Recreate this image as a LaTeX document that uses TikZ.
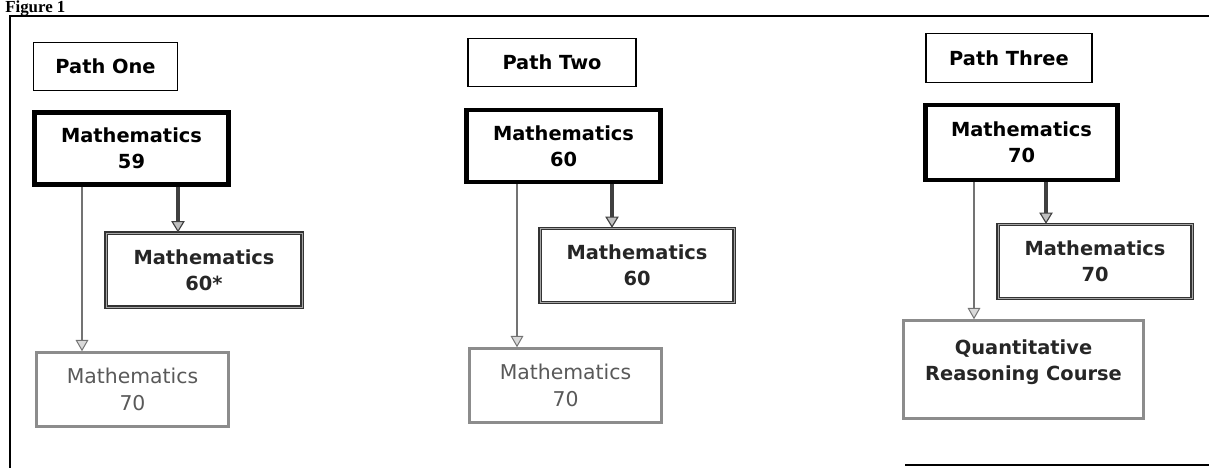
\documentclass[tikz,border=0pt]{standalone}
\usepackage{fontspec}
\newfontfamily\boxfont{DejaVu Sans}
\newfontfamily\titlefont{Liberation Serif}
\usetikzlibrary{arrows.meta}
\tikzset{
  pathbox/.style = {
    rectangle, draw=black, line width=1.2pt,
    align=center, font=\boxfont\bfseries\fontsize{13.8}{18.5}\selectfont
  },
  mainbox/.style = {
    rectangle, draw=black, line width=3pt,
    align=center, font=\boxfont\bfseries\fontsize{13.8}{18.5}\selectfont
  },
  nextbox/.style = {
    rectangle, draw=black!80, line width=0.9pt, double=black!35,
    double distance=0.6pt, text=black!85,
    align=center, font=\boxfont\bfseries\fontsize{13.8}{18.5}\selectfont
  },
  altbox/.style = {
    rectangle, draw=black!45, line width=1.8pt, text=black!65,
    align=center, font=\boxfont\fontsize{14.5}{19}\selectfont
  },
  mainarrow/.style = {
    draw=black!75, line width=2.4pt,
    -{Triangle[width=9.5pt, length=8pt, fill=black!25, line width=0.8pt]}
  },
  altarrow/.style = {
    draw=black!55, line width=1.4pt,
    -{Triangle[width=9pt, length=8pt, fill=black!15, line width=0.7pt]}
  },
  frame/.style = { draw=black, line width=1.2pt }
}

\begin{document}
\begin{tikzpicture}[x=0.025cm, y=-0.025cm]

    \useasboundingbox (0,0) rectangle (1209,467);

    % ---------------------------------------------------------------- Frame
    \node [anchor=base west, font=\titlefont\bfseries\fontsize{12}{14}\selectfont,
           inner sep=0pt] (figtitle) at (5,12.5) {Figure 1};
    \draw [frame] (10,475) -- (10,16) -- (1215,16);
    \draw [frame] (905,465) -- (1215,465);

    % ------------------------------------------------------------- Path one
    \node [pathbox, minimum width=3.6cm, minimum height=1.2cm] (p1)  at (105.5,66.5) {Path One};
    \node [mainbox, minimum width=4.85cm, minimum height=1.8cm] (m59) at (131.5,148.5) {Mathematics\\59};
    \node [nextbox, minimum width=4.9cm, minimum height=1.85cm] (m60s) at (204,270) {Mathematics\\60*};
    \node [altbox, minimum width=4.8cm, minimum height=1.85cm] (m70a) at (132.5,389.5) {Mathematics\\70};

    % ------------------------------------------------------------- Path two
    \node [pathbox, minimum width=4.2cm, minimum height=1.2cm] (p2)  at (552,62.5) {Path Two};
    \node [mainbox, minimum width=4.85cm, minimum height=1.8cm] (m60) at (563.5,146) {Mathematics\\60};
    \node [nextbox, minimum width=4.85cm, minimum height=1.85cm] (m60b) at (637,265.5) {Mathematics\\60};
    \node [altbox, minimum width=4.8cm, minimum height=1.85cm] (m70b) at (565.5,385.5) {Mathematics\\70};

    % ----------------------------------------------------------- Path three
    \node [pathbox, minimum width=4.15cm, minimum height=1.22cm] (p3)  at (1009,58) {Path Three};
    \node [mainbox, minimum width=4.8cm, minimum height=1.88cm] (m70) at (1021.5,142.5) {Mathematics\\70};
    \node [nextbox, minimum width=4.85cm, minimum height=1.85cm] (m70c) at (1095,261.5) {Mathematics\\70};
    \node [altbox, text=black!85, font=\boxfont\bfseries\fontsize{13.8}{18.5}\selectfont,
           text depth=14pt, minimum width=6cm, minimum height=2.45cm] (qrc) at (1023.5,369.5)
          {Quantitative\\Reasoning Course};

    % -------------------------------------------------------------- Arrows
    \coordinate (x1a) at (82,0);   \coordinate (x1b) at (178,0);
    \coordinate (x2a) at (517,0);  \coordinate (x2b) at (612,0);
    \coordinate (x3a) at (974,0);  \coordinate (x3b) at (1046,0);

    \draw [altarrow]  (m59.south -| x1a) -- (m70a.north -| x1a);
    \draw [mainarrow] (m59.south -| x1b) -- (m60s.north -| x1b);

    \draw [altarrow]  (m60.south -| x2a) -- (m70b.north -| x2a);
    \draw [mainarrow] (m60.south -| x2b) -- (m60b.north -| x2b);

    \draw [altarrow]  (m70.south -| x3a) -- (qrc.north -| x3a);
    \draw [mainarrow] (m70.south -| x3b) -- (m70c.north -| x3b);

\end{tikzpicture}
\end{document}
